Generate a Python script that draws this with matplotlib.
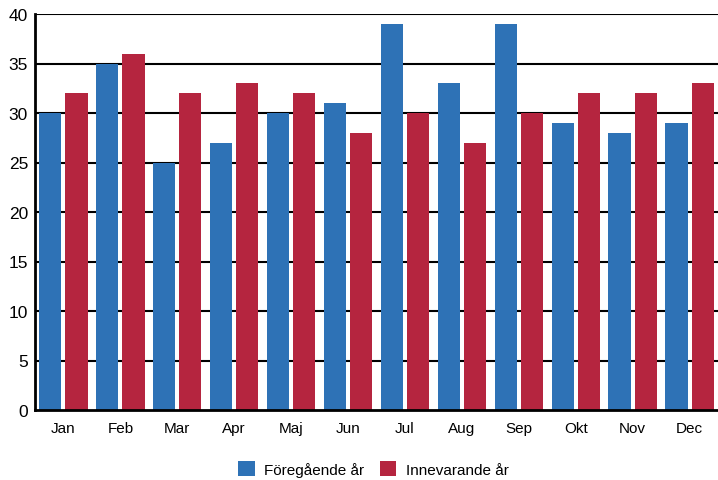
import matplotlib
matplotlib.use("Agg")
import matplotlib.pyplot as plt
import numpy as np

months = ["Jan", "Feb", "Mar", "Apr", "Maj", "Jun", "Jul", "Aug", "Sep", "Okt", "Nov", "Dec"]
prev_year = [30, 35, 25, 27, 30, 31, 39, 33, 39, 29, 28, 29]
curr_year = [32, 36, 32, 33, 32, 28, 30, 27, 30, 32, 32, 33]
series_names = ["Föregående år", "Innevarande år"]
yticks = [0, 5, 10, 15, 20, 25, 30, 35, 40]

plt.rcParams['font.family'] = ['Liberation Sans', 'DejaVu Sans']

fig = plt.figure(figsize=(7.18, 4.81), dpi=100)
ax = fig.add_axes([35/718, 1 - 411/481, 1 - 35/718, (411 - 15)/481])

x = np.arange(len(months))
w = 0.39
off = 0.23
blue = "#2E72B6"
red = "#B5253F"
ax.bar(x - off, prev_year, width=w, color=blue, label=series_names[0], zorder=3)
ax.bar(x + off, curr_year, width=w, color=red, label=series_names[1], zorder=3)

ax.set_xlim(-0.5, len(months) - 0.5)
ax.set_ylim(0, 40)
ax.set_yticks(yticks)
ax.set_yticklabels([str(v) for v in yticks], fontsize=12.5)
ax.set_xticks(x)
ax.set_xticklabels(months, fontsize=11)
ax.tick_params(axis='both', length=0)
ax.tick_params(axis='y', pad=5)
ax.tick_params(axis='x', pad=8)
for v in yticks[1:]:
    ax.axhline(v, color="black", linewidth=1.5, zorder=2)
for s in ["top", "right"]:
    ax.spines[s].set_visible(False)
for s in ["left", "bottom"]:
    ax.spines[s].set_linewidth(2)
    ax.spines[s].set_zorder(4)

fig.legend(loc="center", bbox_to_anchor=(0.52, 1 - 470/481), ncol=2, frameon=False,
           fontsize=11, handlelength=1.1, handleheight=1.1, columnspacing=1.0, handletextpad=0.6)

fig.savefig("out.png", dpi=100)
